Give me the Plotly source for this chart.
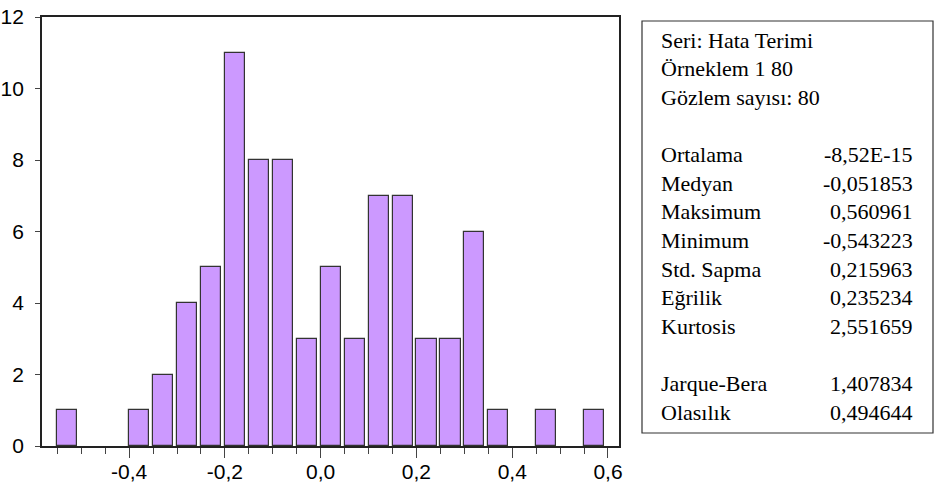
import plotly.graph_objects as go

# Histogram data (bin left edges, counts)
bin_starts = [-0.55, -0.50, -0.45, -0.40, -0.35, -0.30, -0.25, -0.20, -0.15, -0.10,
              -0.05, 0.00, 0.05, 0.10, 0.15, 0.20, 0.25, 0.30, 0.35, 0.40, 0.45, 0.50, 0.55]
counts = [1, 0, 0, 1, 2, 4, 5, 11, 8, 8, 3, 5, 3, 7, 7, 3, 3, 6, 1, 0, 1, 0, 1]

x_tickvals = [-0.4, -0.2, 0.0, 0.2, 0.4, 0.6]
x_ticktext = ["-0,4", "-0,2", "0,0", "0,2", "0,4", "0,6"]
y_tickvals = [0, 2, 4, 6, 8, 10, 12]

stat_labels = ["Seri: Hata Terimi", "Örneklem 1 80", "Gözlem sayısı: 80", "",
               "Ortalama", "Medyan", "Maksimum", "Minimum", "Std. Sapma", "Eğrilik",
               "Kurtosis", "", "Jarque-Bera", "Olasılık"]
stat_values = ["", "", "", "",
               "-8,52E-15", "-0,051853", "0,560961", "-0,543223", "0,215963", "0,235234",
               "2,551659", "", "1,407834", "0,494644"]

W, H = 941, 485
L, R, T, B = 42, 322, 17, 39
pw, ph = W - L - R, H - T - B

def px_x(x):
    return (x - L) / pw

def px_y(y):
    return (H - B - y) / ph

fig = go.Figure()
fig.add_trace(go.Bar(
    x=bin_starts, y=counts, offset=0, width=0.042,
    marker=dict(color="#CC99FF",
                line=dict(color="#333333", width=[1.2 if c > 0 else 0 for c in counts])),
    showlegend=False, hoverinfo="x+y",
))

axis_font = dict(family="Liberation Sans, Arial, sans-serif", size=21, color="#000000")

fig.update_xaxes(
    range=[-0.582, 0.623], tickmode="array", tickvals=x_tickvals, ticktext=x_ticktext,
    ticks="outside", ticklen=10, tickwidth=1.2, tickcolor="#444444",
    minor=dict(tickmode="linear", tick0=0, dtick=0.05, ticks="outside", ticklen=6,
               tickwidth=1.2, tickcolor="#444444"),
    showline=True, linecolor="#222222", linewidth=1.8, mirror=True,
    showgrid=False, zeroline=False, tickfont=axis_font, automargin=False,
    ticklabelstandoff=-4,
)
fig.update_yaxes(
    range=[0, 12], tickmode="array", tickvals=y_tickvals,
    ticks="outside", ticklen=5, tickwidth=1.2, tickcolor="#444444",
    showline=True, linecolor="#222222", linewidth=1.8, mirror=True,
    showgrid=False, zeroline=False, tickfont=axis_font, ticklabelstandoff=7,
    automargin=False,
)

# Statistics box
fig.add_shape(type="rect", xref="paper", yref="paper",
              x0=px_x(642), x1=px_x(933), y0=px_y(433), y1=px_y(21),
              line=dict(color="#333333", width=1.2), fillcolor="white")

stat_font = dict(family="Liberation Serif, Times New Roman, serif", size=22, color="#000000")
row0, dy = 40.2, 28.6
for i, (lab, val) in enumerate(zip(stat_labels, stat_values)):
    yy = px_y(row0 + dy * i)
    if lab:
        fig.add_annotation(xref="paper", yref="paper", x=px_x(659), y=yy, text=lab,
                           showarrow=False, xanchor="left", yanchor="middle", font=stat_font)
    if val:
        fig.add_annotation(xref="paper", yref="paper", x=px_x(915), y=yy, text=val,
                           showarrow=False, xanchor="right", yanchor="middle", font=stat_font)

fig.update_layout(
    width=W, height=H, margin=dict(l=L, r=R, t=T, b=B),
    paper_bgcolor="white", plot_bgcolor="white", bargap=0,
)

fig.write_html("out.html", config={"displayModeBar": False},
               post_script="document.body.style.margin='0';document.body.style.overflow='hidden';")
